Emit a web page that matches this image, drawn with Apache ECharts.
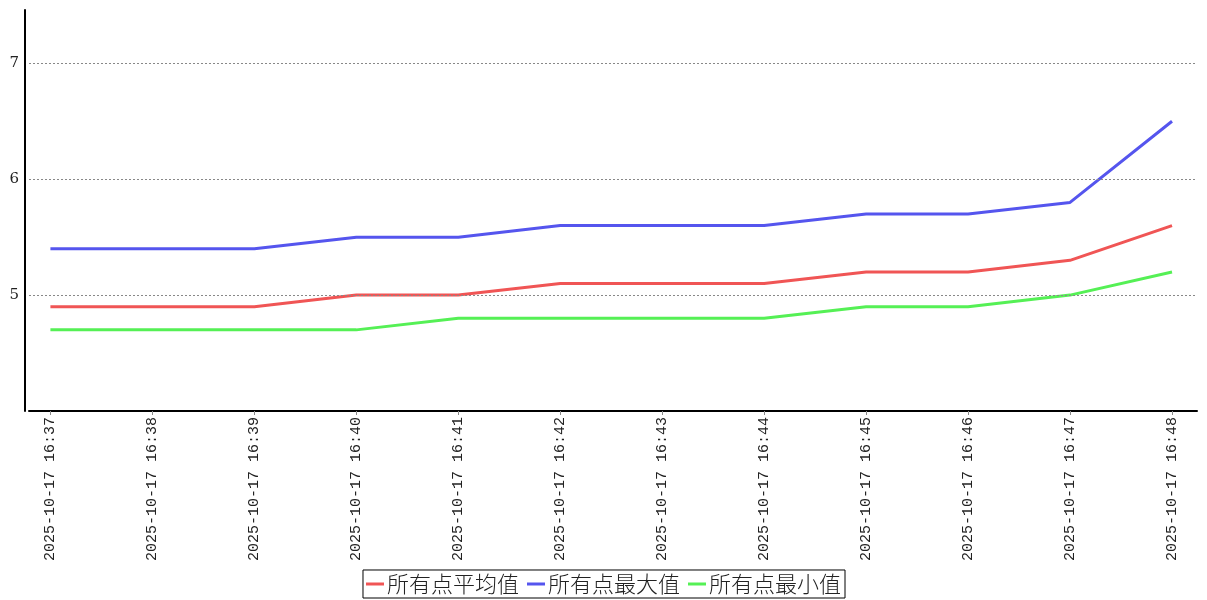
<!DOCTYPE html>
<html><head><meta charset="utf-8">
<script src="https://cdn.jsdelivr.net/npm/echarts@6/dist/echarts.min.js"></script>
<style>html,body{margin:0;padding:0;background:#fff}#c{width:1207px;height:600px}</style>
</head><body><div id="c"></div>
<script>
const categories = ["2025-10-17 16:37","2025-10-17 16:38","2025-10-17 16:39","2025-10-17 16:40","2025-10-17 16:41","2025-10-17 16:42","2025-10-17 16:43","2025-10-17 16:44","2025-10-17 16:45","2025-10-17 16:46","2025-10-17 16:47","2025-10-17 16:48"];
const avgValues = [4.9,4.9,4.9,5.0,5.0,5.1,5.1,5.1,5.2,5.2,5.3,5.6];
const maxValues = [5.4,5.4,5.4,5.5,5.5,5.6,5.6,5.6,5.7,5.7,5.8,6.5];
const minValues = [4.7,4.7,4.7,4.7,4.8,4.8,4.8,4.8,4.9,4.9,5.0,5.2];
const seriesNames = ["所有点平均值","所有点最大值","所有点最小值"];
const yTicks = [5,6,7];

const idx = categories.map((_, i) => i);
const toPts = arr => arr.map((v, i) => [i, v]);
const chart = echarts.init(document.getElementById('c'));
chart.setOption({
  animation: false,
  color: ['#f05555', '#5555ee', '#55f055'],
  grid: { left: 29, right: 10, top: 10, bottom: 189, containLabel: false },
  legend: {
    bottom: 2, left: 'center',
    data: seriesNames,
    icon: 'rect', itemWidth: 18, itemHeight: 3, itemGap: 8,
    borderColor: '#000', borderWidth: 1, padding: [3, 4, 3, 3],
    textStyle: { fontFamily: 'Noto Sans CJK SC', fontWeight: 300, fontSize: 22, color: '#222', padding: [0, 0, 0, -2] }
  },
  xAxis: {
    type: 'value', min: -0.21, max: 11.245,
    axisLine: { show: true, onZero: false, lineStyle: { color: '#000', width: 2 } },
    axisTick: { show: true, customValues: idx, length: 4, lineStyle: { color: '#888' } },
    splitLine: { show: false },
    axisLabel: {
      customValues: idx, rotate: 90, margin: 6,
      fontFamily: 'Liberation Mono', fontSize: 15, color: '#222',
      formatter: v => categories[Math.round(v)]
    }
  },
  yAxis: {
    type: 'value', min: 4, max: 7.46, interval: 1, offset: 4,
    axisLine: { show: true, onZero: false, lineStyle: { color: '#000', width: 2 } },
    axisTick: { show: false },
    splitLine: { show: false },
    axisLabel: { customValues: yTicks, fontFamily: 'DejaVu Serif', fontSize: 15, color: '#222', margin: 6 }
  },
  series: [
    { name: seriesNames[0], type: 'line', data: toPts(avgValues), showSymbol: false, lineStyle: { width: 3 }, z: 3,
      markLine: { silent: true, symbol: 'none', label: { show: false },
        lineStyle: { type: [2, 2], color: '#888', width: 1 },
        data: yTicks.map(t => ({ yAxis: t })) } },
    { name: seriesNames[1], type: 'line', data: toPts(maxValues), showSymbol: false, lineStyle: { width: 3 }, z: 3 },
    { name: seriesNames[2], type: 'line', data: toPts(minValues), showSymbol: false, lineStyle: { width: 3 }, z: 3 }
  ]
});
</script></body></html>
